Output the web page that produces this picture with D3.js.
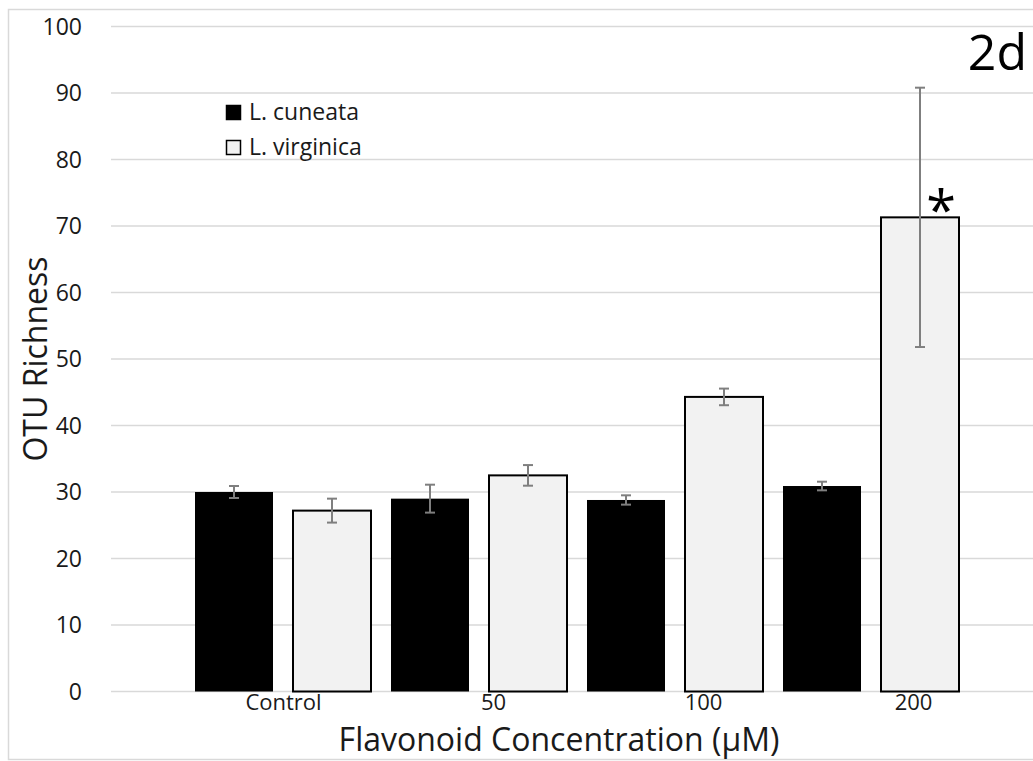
<!DOCTYPE html>
<html>
<head>
<meta charset="utf-8">
<script src="https://cdn.jsdelivr.net/npm/d3@7"></script>
<style>
  body { margin: 0; background: #fff; }
  svg { display: block; font-family: "Open Sans", Lato, sans-serif; }
</style>
</head>
<body>
<div id="chart"></div>
<script>
const width = 1033;
const height = 761;

// data
const categories = ["Control", "50", "100", "200"];
const seriesNames = ["L. cuneata", "L. virginica"];
const cuneata = [30.0, 29.0, 28.8, 30.9];
const cuneataErr = [0.9, 2.1, 0.7, 0.65];
const virginica = [27.2, 32.5, 44.3, 71.3];
const virginicaErr = [1.8, 1.55, 1.25, 19.5];
const yTicks = [0, 10, 20, 30, 40, 50, 60, 70, 80, 90, 100];

const colors = { "L. cuneata": "#000000", "L. virginica": "#f2f2f2" };

// one row per bar, in drawing order
const bars = [];
categories.forEach((c, i) => {
    bars.push({ key: c + "|0", cat: c, series: seriesNames[0], value: cuneata[i], err: cuneataErr[i] });
    bars.push({ key: c + "|1", cat: c, series: seriesNames[1], value: virginica[i], err: virginicaErr[i] });
});

//scales
const yScale = d3.scaleLinear().domain([0, 100]).range([691.5, 26.5]);

const xBar = d3.scaleBand()
    .domain(bars.map(d => d.key))
    .range([185, 969])
    .paddingInner(20 / 98)
    .paddingOuter(10 / 98);

// category labels sit on their own spacing in the figure
const xCat = d3.scaleBand().domain(categories).range([178.5, 1018.5]);

const svg = d3.select("#chart").append("svg").attr("width", width).attr("height", height);

// frame
svg.append("rect")
    .attr("x", 8.5).attr("y", 9.5)
    .attr("width", 1040).attr("height", 750)
    .attr("fill", "none")
    .attr("stroke", "#d9d9d9")
    .attr("stroke-width", 1.5);

//gridlines
svg.append("g")
    .selectAll("line")
    .data(yTicks)
    .join("line")
    .attr("x1", 111)
    .attr("x2", width)
    .attr("y1", d => yScale(d))
    .attr("y2", d => yScale(d))
    .attr("stroke", "#d9d9d9")
    .attr("stroke-width", 1.5);

//y tick labels
svg.append("g")
    .selectAll("text")
    .data(yTicks)
    .join("text")
    .attr("x", 82)
    .attr("y", d => yScale(d))
    .attr("dy", "0.36em")
    .attr("text-anchor", "end")
    .style("font-size", "23px")
    .style("fill", "#1a1a1a")
    .text(d => d);

//bars
svg.append("g")
    .selectAll("rect")
    .data(bars)
    .join("rect")
    .attr("x", d => xBar(d.key))
    .attr("y", d => yScale(d.value))
    .attr("width", xBar.bandwidth())
    .attr("height", d => yScale(0) - yScale(d.value))
    .attr("fill", d => colors[d.series])
    .attr("stroke", "#000")
    .attr("stroke-width", d => d.series === seriesNames[1] ? 2 : 0);

//error bars
const errG = svg.append("g")
    .attr("stroke", "#7f7f7f")
    .attr("stroke-width", 2)
    .selectAll("g")
    .data(bars)
    .join("g")
    .attr("transform", d => `translate(${xBar(d.key) + xBar.bandwidth() / 2},0)`);

errG.append("line")
    .attr("y1", d => yScale(d.value + d.err))
    .attr("y2", d => yScale(d.value - d.err));

errG.selectAll("line.cap")
    .data(d => [d.value + d.err, d.value - d.err])
    .join("line")
    .attr("class", "cap")
    .attr("x1", -5).attr("x2", 5)
    .attr("y1", d => yScale(d))
    .attr("y2", d => yScale(d));

// significance mark on the 200 virginica bar
const starBar = bars[bars.length - 1];
svg.append("text")
    .attr("x", xBar(starBar.key) + xBar.bandwidth() / 2 + 21)
    .attr("y", yScale(starBar.value) + 13)
    .attr("text-anchor", "middle")
    .style("font-size", "54px")
    .style("fill", "#000")
    .text("*");

//category labels
svg.append("g")
    .selectAll("text")
    .data(categories)
    .join("text")
    .attr("x", d => xCat(d) + xCat.bandwidth() / 2)
    .attr("y", 710)
    .attr("text-anchor", "middle")
    .style("font-size", "22px")
    .style("fill", "#1a1a1a")
    .text(d => d);

//axis titles
svg.append("text")
    .attr("x", 559)
    .attr("y", 751)
    .attr("text-anchor", "middle")
    .style("font-size", "32px")
    .style("fill", "#1a1a1a")
    .text("Flavonoid Concentration (μM)");

svg.append("text")
    .attr("transform", "translate(47,359) rotate(-90)")
    .attr("text-anchor", "middle")
    .style("font-size", "32px")
    .style("fill", "#1a1a1a")
    .text("OTU Richness");

// panel label
svg.append("text")
    .attr("x", 1027)
    .attr("y", 70)
    .attr("text-anchor", "end")
    .style("font-size", "50px")
    .style("fill", "#000")
    .text("2d");

//legend
const legend = svg.append("g")
    .selectAll("g")
    .data(seriesNames)
    .join("g")
    .attr("transform", (d, i) => `translate(226,${105 + i * 35})`);

legend.append("rect")
    .attr("x", 0.5).attr("y", 0.5)
    .attr("width", 14).attr("height", 14)
    .attr("fill", d => colors[d])
    .attr("stroke", "#000")
    .attr("stroke-width", 1.5);

legend.append("text")
    .attr("x", 23)
    .attr("y", 15)
    .style("font-size", "23px")
    .style("fill", "#1a1a1a")
    .text(d => d);
</script>
</body>
</html>
